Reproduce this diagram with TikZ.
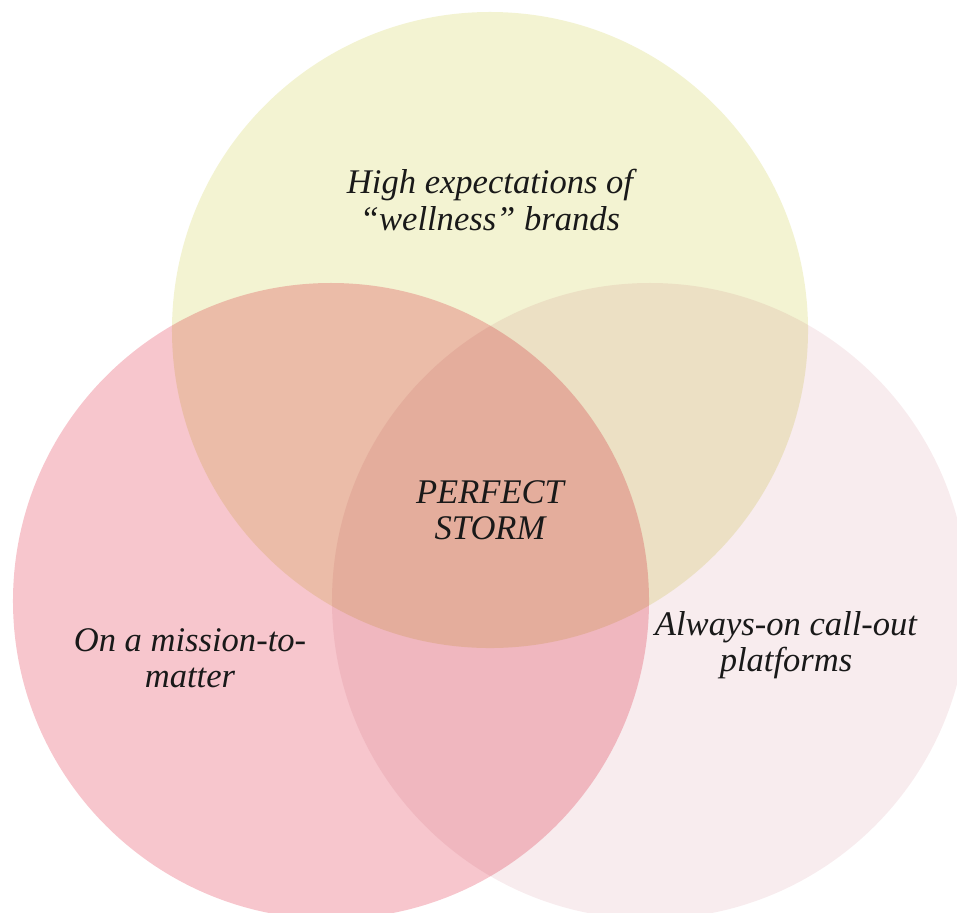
\documentclass[tikz,border=0pt]{standalone}
\usepackage{fontspec}
\setmainfont{Liberation Serif}
\usetikzlibrary{positioning}

\definecolor{wellnessyellow}{HTML}{F3F3D2}
\definecolor{missionpink}{HTML}{F7C6CD}
\definecolor{calloutpink}{HTML}{F8ECEE}

\begin{document}
\begin{tikzpicture}[x=0.03cm, y=-0.03cm]
    % Define styles for the circles and the labels
    \tikzstyle{set} = [circle, minimum size=19.08cm, inner sep=0pt, blend mode=multiply]
    \tikzstyle{label} = [align=center, font=\fontsize{29.5}{31}\selectfont\itshape, text=black!90]

    % Page frame
    \useasboundingbox (0, 0) rectangle (957, 912);
    \clip (0, 0) rectangle (957, 912);

    % Circles
    \node[set, fill=wellnessyellow] (wellness) at (490, 330) {};
    \node[set, fill=missionpink] (mission) at (331, 601) {};
    \node[set, fill=calloutpink] (callout) at (650, 601) {};

    % Labels
    \node[label] (expect) at (490, 200) {High expectations of\\``wellness'' brands};
    \node[label] (storm) at (490, 510) {PERFECT\\STORM};
    \node[label] (matter) at (190, 658) {On a mission-to-\\matter};
    \node[label] (always) at (786, 645) {Always-on call-out\\platforms};
\end{tikzpicture}
\end{document}
